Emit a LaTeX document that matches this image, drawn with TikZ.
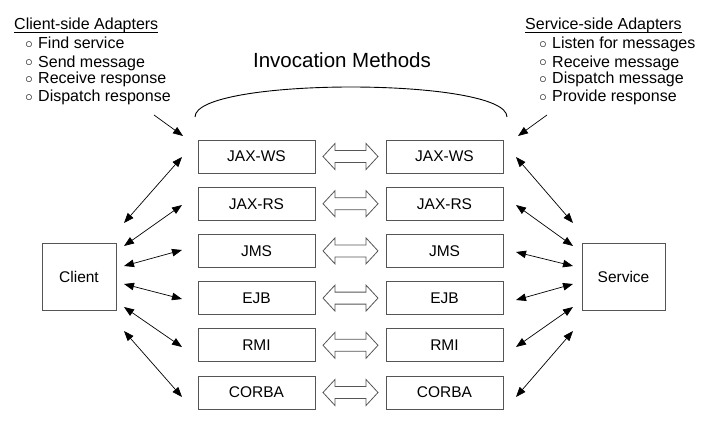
\documentclass[tikz,border=0pt]{standalone}
\usepackage{fontspec}
\setmainfont{Liberation Sans}
\usetikzlibrary{arrows.meta,calc}
\definecolor{boxgray}{HTML}{555555}
\newcommand{\bul}{\makebox[13pt][l]{\fontsize{13}{14}\selectfont\raisebox{0.6pt}{○}}}
\begin{document}
\begin{tikzpicture}[x=1pt,y=-1pt,
  box/.style={draw=boxgray, line width=0.9pt, minimum width=117pt, minimum height=33pt, inner sep=0pt, font=\fontsize{15.5}{18}\selectfont},
  endbox/.style={draw=boxgray, line width=0.9pt, minimum height=67pt, inner sep=0pt, font=\fontsize{15.5}{18}\selectfont},
  link/.style={{Triangle[length=10pt,width=7.5pt]}-{Triangle[length=10pt,width=7.5pt]}, line width=0.7pt},
  hollow/.style={draw=boxgray, line width=0.8pt, fill=white},
  curvy/.style={line width=0.9pt},
  pointer/.style={-{Triangle[length=10pt,width=7.5pt]}, line width=0.7pt},
  head/.style={anchor=base west, inner sep=0pt, font=\fontsize{16}{18}\selectfont},
  item/.style={anchor=base west, inner sep=0pt, font=\fontsize{16}{18}\selectfont},
  titletext/.style={anchor=base, inner sep=0pt, font=\fontsize{20.5}{24}\selectfont}
]
\useasboundingbox (0,0) rectangle (710,436);

% titles and lists
\node[head] (ch) at (14,30) {Client-side Adapters};
\draw[line width=0.8pt] ([yshift=-2pt]ch.base west) -- ([yshift=-2pt]ch.base east);
\node[item] (c1) at (25,49) {\bul Find service};
\node[item] (c2) at (25,67) {\bul Send message};
\node[item] (c3) at (25,84) {\bul Receive response};
\node[item] (c4) at (25,102) {\bul Dispatch response};

\node[head] (sh) at (525,30) {Service-side Adapters};
\draw[line width=0.8pt] ([yshift=-2pt]sh.base west) -- ([yshift=-2pt]sh.base east);
\node[item] (s1) at (539,49) {\bul Listen for messages};
\node[item] (s2) at (539,67) {\bul Receive message};
\node[item] (s3) at (539,84) {\bul Dispatch message};
\node[item] (s4) at (539,102) {\bul Provide response};

\node[titletext] (im) at (342,67) {Invocation Methods};

% brace curve
\coordinate (bl) at (195,117);
\coordinate (br) at (507,117);
\draw[curvy] (bl) .. controls (195,77) and (507,77) .. (br);

% pointer arrows
\coordinate (pl0) at (154,115);
\coordinate (pl1) at (183,136);
\coordinate (pr0) at (547,115);
\coordinate (pr1) at (518,136);
\draw[pointer] (pl0) -- (pl1);
\draw[pointer] (pr0) -- (pr1);

% end boxes
\node[endbox, minimum width=74pt] (client) at (79,276.5) {Client};
\node[endbox, minimum width=83pt] (service) at (623.5,276.5) {Service};

% method boxes
\foreach \i/\t [count=\k from 0] in {1/JAX-WS,2/JAX-RS,3/JMS,4/EJB,5/RMI,6/CORBA}{
  \node[box] (L\i) at (256.5,156.5+47.2*\k) {\t};
  \node[box] (R\i) at (444.5,156.5+47.2*\k) {\t};
  \path (L\i.east) -- (R\i.west) coordinate[midway] (M\i);
  \draw[hollow] ($(M\i)+(-27.5,0)$) -- ++(12,-13) -- ++(0,7) -- ++(31,0) -- ++(0,-7)
     -- ++(12,13) -- ++(-12,13) -- ++(0,-7) -- ++(-31,0) -- ++(0,7) -- cycle;
}

% client links
\foreach \i/\a/\b in {1/223/157,2/246/205,3/266/250,4/284/299,5/307/347,6/331/397}{
  \coordinate (ca\i) at (124,\a);
  \coordinate (cb\i) at (182,\b);
  \draw[link] (ca\i) -- (cb\i);
}
% service links
\foreach \i/\a/\b in {1/157/223,2/205/246,3/252/266,4/300/284,5/347/307,6/397/331}{
  \coordinate (sa\i) at (516,\a);
  \coordinate (sb\i) at (573,\b);
  \draw[link] (sa\i) -- (sb\i);
}
\end{tikzpicture}
\end{document}
